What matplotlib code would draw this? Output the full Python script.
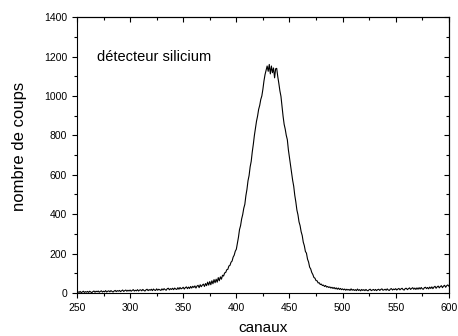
import numpy as np
import matplotlib.pyplot as plt
from matplotlib.ticker import MultipleLocator

plt.rcParams['font.family'] = ['Liberation Sans', 'DejaVu Sans']

# spectrum: counts per channel, channels 250..600
channel_start = 250
counts = [
    2, 6, 3, 8, 2, 5, 9, 3, 7, 4,
    8, 3, 9, 5, 2, 7, 10, 4, 9, 6,
    10, 4, 8, 11, 5, 9, 6, 12, 5, 9,
    11, 6, 12, 8, 5, 10, 13, 7, 12, 9,
    13, 7, 11, 15, 8, 12, 15, 9, 14, 10,
    15, 9, 13, 17, 10, 14, 11, 17, 10, 15,
    16, 11, 18, 13, 10, 16, 19, 12, 17, 14,
    19, 12, 20, 15, 13, 21, 14, 19, 16, 13,
    21, 15, 22, 17, 14, 22, 24, 16, 22, 18,
    24, 17, 25, 20, 18, 27, 19, 28, 21, 24,
    29, 20, 27, 31, 22, 30, 23, 33, 25, 34,
    28, 36, 25, 35, 39, 27, 42, 32, 40, 45,
    33, 48, 37, 55, 40, 58, 42, 62, 47, 68,
    52, 70, 55, 78, 62, 82, 70, 90, 86, 102,
    104, 118, 120, 137, 140, 156, 162, 182, 192, 212,
    222, 252, 283, 322, 342, 376, 398, 430, 450, 494,
    526, 570, 596, 640, 668, 716, 755, 800, 835, 872,
    898, 932, 952, 982, 1000, 1034, 1076, 1108, 1130, 1152,
    1125, 1160, 1112, 1152, 1118, 1142, 1092, 1138, 1140, 1098,
    1064, 1026, 998, 948, 897, 856, 832, 800, 778, 726,
    688, 646, 612, 572, 542, 496, 462, 421, 397, 361,
    342, 311, 292, 258, 240, 211, 202, 172, 157, 131,
    122, 104, 94, 79, 75, 63, 62, 51, 52, 43,
    45, 38, 40, 33, 38, 30, 33, 28, 31, 25,
    29, 23, 28, 21, 26, 19, 25, 18, 23, 17,
    21, 16, 20, 14, 19, 15, 18, 13, 21, 14,
    18, 13, 17, 12, 20, 13, 17, 11, 18, 13,
    17, 12, 18, 13, 11, 17, 19, 12, 15, 18,
    13, 18, 12, 17, 19, 13, 18, 21, 14, 16,
    19, 14, 21, 15, 13, 20, 22, 15, 20, 17,
    22, 15, 20, 23, 16, 21, 24, 17, 15, 23,
    24, 17, 22, 26, 18, 23, 27, 19, 25, 18,
    26, 19, 27, 20, 28, 21, 19, 27, 29, 22,
    28, 21, 30, 23, 31, 22, 30, 34, 24, 31,
    35, 26, 33, 37, 27, 35, 39, 29, 37, 41,
    35,
]
channels = np.arange(channel_start, channel_start + len(counts))

fig = plt.figure(figsize=(4.58, 3.36), dpi=100)
ax = fig.add_axes([0.168, 0.128, 0.812, 0.821])
ax.plot(channels, counts, color='black', linewidth=0.8)

ax.set_xlim(250, 600)
ax.set_ylim(0, 1400)
ax.xaxis.set_major_locator(MultipleLocator(50))
ax.xaxis.set_minor_locator(MultipleLocator(25))
ax.yaxis.set_major_locator(MultipleLocator(200))
ax.yaxis.set_minor_locator(MultipleLocator(100))
ax.tick_params(which='both', direction='out', top=False, right=False,
               labelsize=7.5, width=0.8)
ax.tick_params(which='major', length=3.5)
ax.tick_params(which='minor', length=2)

# inward ticks on the top and right frame, no labels
top = ax.secondary_xaxis('top')
top.xaxis.set_major_locator(MultipleLocator(50))
top.xaxis.set_minor_locator(MultipleLocator(25))
top.tick_params(which='both', direction='in', labeltop=False, width=0.8)
right = ax.secondary_yaxis('right')
right.yaxis.set_major_locator(MultipleLocator(200))
right.yaxis.set_minor_locator(MultipleLocator(100))
right.tick_params(which='both', direction='in', labelright=False, width=0.8)
for sec in (top, right):
    sec.tick_params(which='major', length=3.5)
    sec.tick_params(which='minor', length=2)

for s in ax.spines.values():
    s.set_linewidth(0.8)

ax.set_xlabel('canaux', fontsize=11, labelpad=6)
ax.set_ylabel('nombre de coups', fontsize=12)
ax.yaxis.set_label_coords(-0.135, 0.53)
ax.text(269, 1200, 'détecteur silicium', fontsize=10.5, va='center', ha='left')

fig.savefig('out.png', dpi=100)
